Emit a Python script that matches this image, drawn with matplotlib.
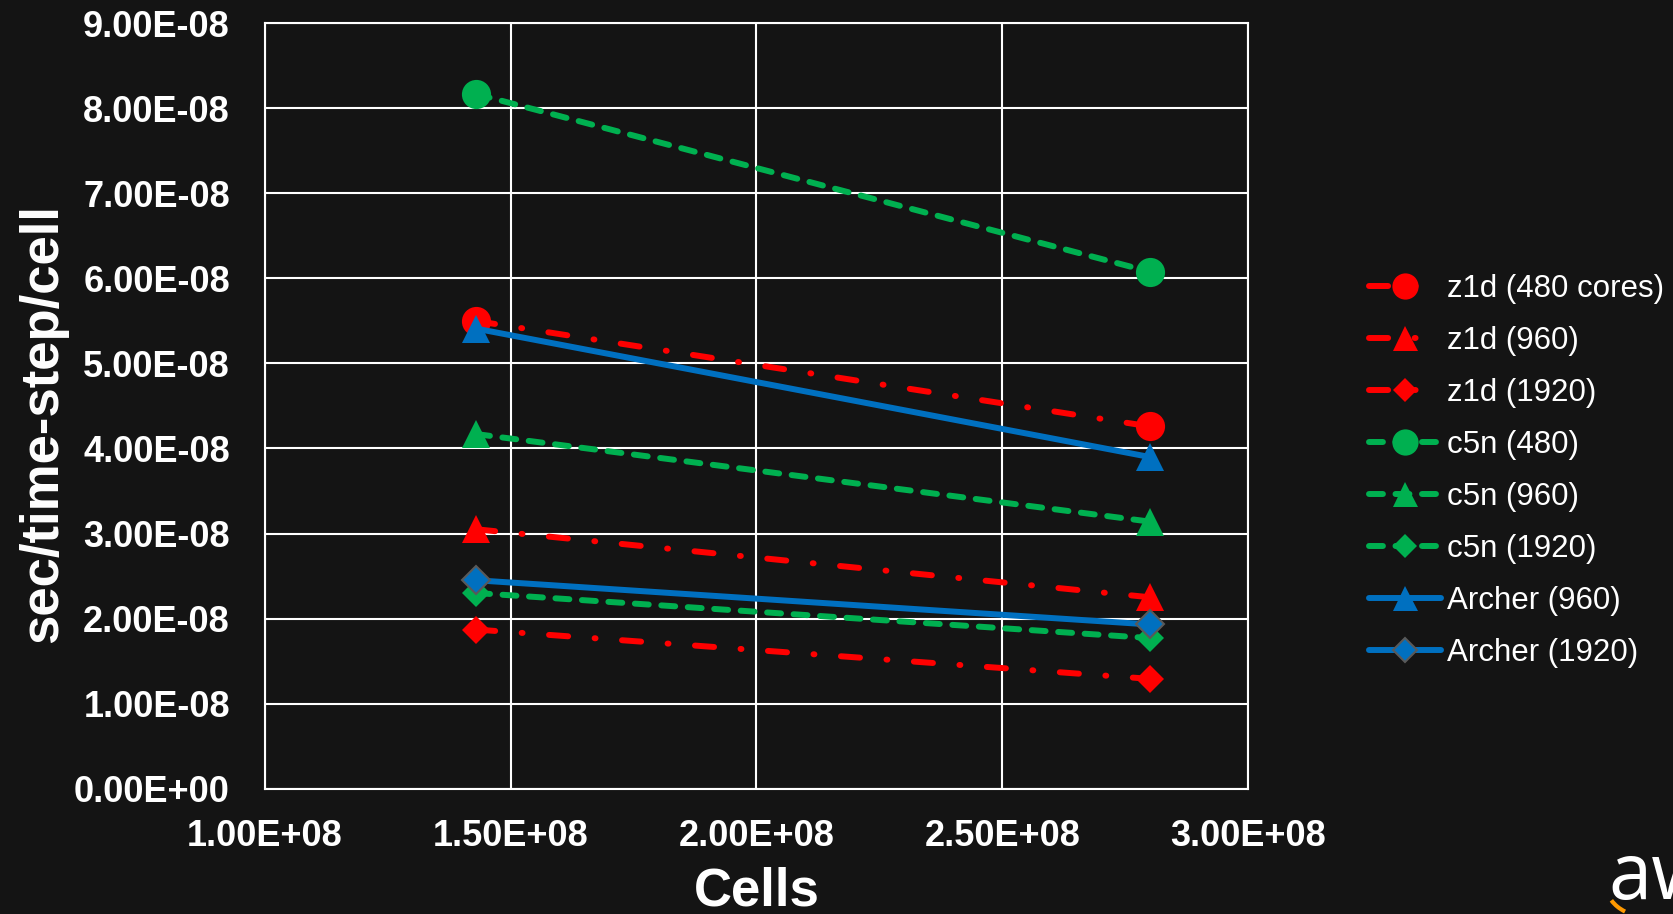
import matplotlib
matplotlib.use("Agg")
import matplotlib.pyplot as plt
from matplotlib.patches import Arc

# ---- data ----
cells = [1.43e8, 2.80e8]
z1d_480 = [5.50e-8, 4.26e-8]
z1d_960 = [3.05e-8, 2.25e-8]
z1d_1920 = [1.87e-8, 1.29e-8]
c5n_480 = [8.17e-8, 6.08e-8]
c5n_960 = [4.17e-8, 3.14e-8]
c5n_1920 = [2.30e-8, 1.77e-8]
archer_960 = [5.41e-8, 3.90e-8]
archer_1920 = [2.45e-8, 1.93e-8]

labels = ["z1d (480 cores)", "z1d (960)", "z1d (1920)",
          "c5n (480)", "c5n (960)", "c5n (1920)",
          "Archer (960)", "Archer (1920)"]
xticks = [1.0e8, 1.5e8, 2.0e8, 2.5e8, 3.0e8]
xticklabels = ["1.00E+08", "1.50E+08", "2.00E+08", "2.50E+08", "3.00E+08"]
yticks = [i * 1e-8 for i in range(10)]
yticklabels = ["0.00E+00", "1.00E-08", "2.00E-08", "3.00E-08", "4.00E-08",
               "5.00E-08", "6.00E-08", "7.00E-08", "8.00E-08", "9.00E-08"]

BG = "#141414"
RED = "#FF0000"
GREEN = "#00B050"
BLUE = "#0070C0"

plt.rcParams['font.family'] = ['Liberation Sans', 'DejaVu Sans']

fig = plt.figure(figsize=(16.73, 9.14), dpi=100, facecolor=BG)
ax = fig.add_axes([0.1582, 0.1373, 0.746 - 0.1582, 0.9743 - 0.1373])
ax.set_facecolor(BG)

LW = 4.3
red_ls = (0, (3.2, 4.45, 0.15, 4.45))
green_ls = (0, (2.33, 2.11))

series = [
    (z1d_480, RED, red_ls, 'o', 21, RED),
    (z1d_960, RED, red_ls, '^', 20, RED),
    (z1d_1920, RED, red_ls, 'D', 14, RED),
    (c5n_480, GREEN, green_ls, 'o', 21, GREEN),
    (c5n_960, GREEN, green_ls, '^', 20, GREEN),
    (c5n_1920, GREEN, green_ls, 'D', 14, GREEN),
    (archer_960, BLUE, '-', '^', 20, BLUE),
    (archer_1920, BLUE, '-', 'D', 14, "#595959"),
]
for (vals, col, ls, mk, ms, mec), lab in zip(series, labels):
    ax.plot(cells, vals, color=col, linestyle=ls, linewidth=LW,
            marker=mk, markersize=ms, markerfacecolor=col,
            markeredgecolor=mec, markeredgewidth=1.5 if mec != col else 0,
            dash_capstyle='round', solid_capstyle='round', label=lab, zorder=3)

ax.set_xlim(1.0e8, 3.0e8)
ax.set_ylim(0, 9e-8)
ax.set_xticks(xticks)
ax.set_xticklabels(xticklabels)
ax.set_yticks(yticks)
ax.set_yticklabels(yticklabels)
ax.tick_params(axis='both', length=0, colors='white', labelsize=26)
ax.tick_params(axis='x', pad=22)
ax.tick_params(axis='y', pad=25)
for t in ax.get_xticklabels() + ax.get_yticklabels():
    t.set_fontweight('bold')
ax.grid(True, color='white', linewidth=1.5, zorder=1)
ax.set_axisbelow(True)
for s in ax.spines.values():
    s.set_color('white')
    s.set_linewidth(1.5)

ax.set_ylabel("sec/time-step/cell", fontsize=38, fontweight='bold', color='white')
ax.yaxis.set_label_coords(-0.225, 0.4765)
ax.set_xlabel("Cells", fontsize=38, fontweight='bold', color='white')
ax.xaxis.set_label_coords(0.5, -0.134)
ax.xaxis.label.set_va('center')
ax.yaxis.label.set_va('center')

leg = fig.legend(loc='center left', bbox_to_anchor=(1369 / 1673, 0.4847),
                 frameon=False, fontsize=22.5, labelcolor='white',
                 handlelength=2.3, handletextpad=0.2, labelspacing=0.7,
                 borderpad=0, borderaxespad=0, markerscale=0.9)

# logo fragment at bottom-right (cut by the edge, as in the reference)
fig.text(1608 / 1673, 0.016, "aws", color='white', fontsize=56,
         family=['Open Sans', 'DejaVu Sans'], ha='left', va='baseline')
fig.add_artist(Arc((0.985, 0.032), 0.05, 0.07, theta1=218, theta2=245,
                   transform=fig.transFigure, color='#FF9900', linewidth=3))

fig.savefig("out.png", dpi=100, facecolor=BG)
